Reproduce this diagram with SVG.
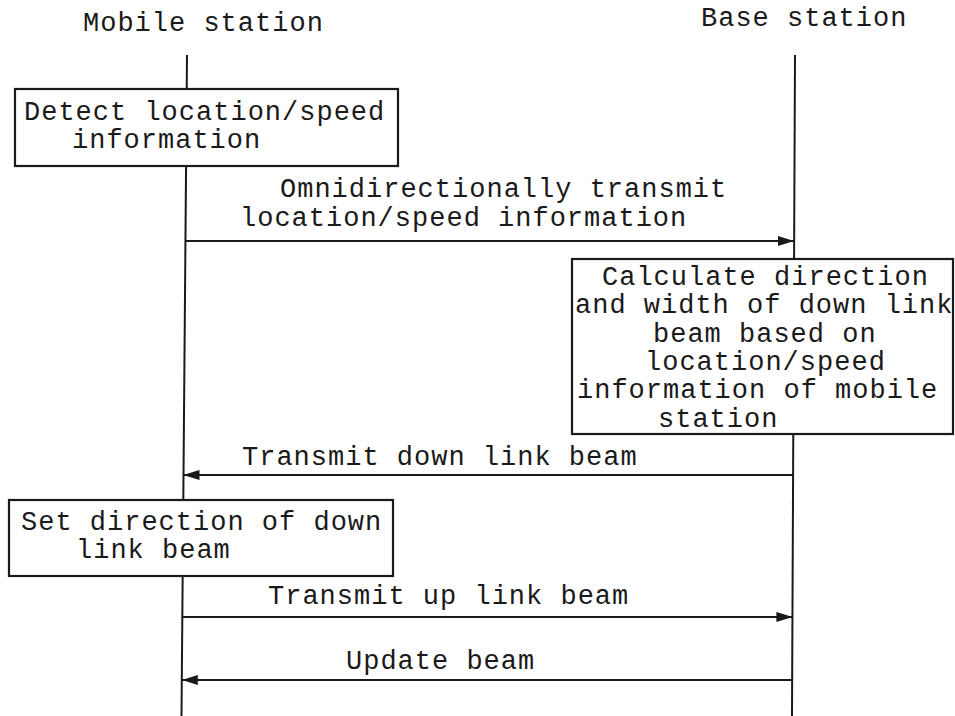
<svg xmlns="http://www.w3.org/2000/svg" width="955" height="716" viewBox="0 0 955 716">
<defs>
<style>
text{font-family:"Liberation Mono","DejaVu Sans Mono",monospace;font-size:27px;letter-spacing:1px;fill:#1a1a1a}
.life{stroke:#1a1a1a;stroke-width:2;fill:none}
.box{fill:#fff;stroke:#1a1a1a;stroke-width:2.2}
.msg{stroke:#1a1a1a;stroke-width:2.2;fill:none}
</style>
<marker id="ah" viewBox="0 0 16 10" refX="16" refY="5" markerWidth="16" markerHeight="10" markerUnits="userSpaceOnUse" orient="auto">
<path d="M0,0 L16,5 L0,10 z" fill="#1a1a1a"/>
</marker>
</defs>
<rect width="955" height="716" fill="#fff"/>

<g id="mobile-station">
<text x="83" y="31">Mobile station</text>
<line class="life" x1="187" y1="55" x2="181.5" y2="716"/>
</g>
<g id="base-station">
<text x="701" y="26">Base station</text>
<line class="life" x1="795" y1="55" x2="792" y2="716"/>
</g>

<g id="detect">
<rect class="box" x="15" y="89" width="383" height="77"/>
<text x="24" y="120">Detect location/speed</text>
<text x="72" y="148">information</text>
</g>

<g id="calculate">
<rect class="box" x="572" y="259" width="381" height="175"/>
<text x="602" y="285">Calculate direction</text>
<text x="575" y="313">and width of down link</text>
<text x="653" y="342">beam based on</text>
<text x="645" y="370">location/speed</text>
<text x="577" y="398">information of mobile</text>
<text x="658" y="427">station</text>
</g>

<g id="set-direction">
<rect class="box" x="9" y="500" width="384" height="76"/>
<text x="21" y="530">Set direction of down</text>
<text x="76" y="558">link beam</text>
</g>

<g id="connectors">
<line class="msg" x1="185.4" y1="241" x2="794" y2="241" marker-end="url(#ah)"/>
<text x="280" y="197">Omnidirectionally transmit</text>
<text x="240" y="226">location/speed information</text>

<line class="msg" x1="793" y1="475" x2="183.5" y2="475" marker-end="url(#ah)"/>
<text x="242" y="465">Transmit down link beam</text>

<line class="msg" x1="182.3" y1="617" x2="792.4" y2="617" marker-end="url(#ah)"/>
<text x="268" y="604">Transmit up link beam</text>

<line class="msg" x1="792.2" y1="680" x2="181.8" y2="680" marker-end="url(#ah)"/>
<text x="346" y="669">Update beam</text>
</g>
</svg>
